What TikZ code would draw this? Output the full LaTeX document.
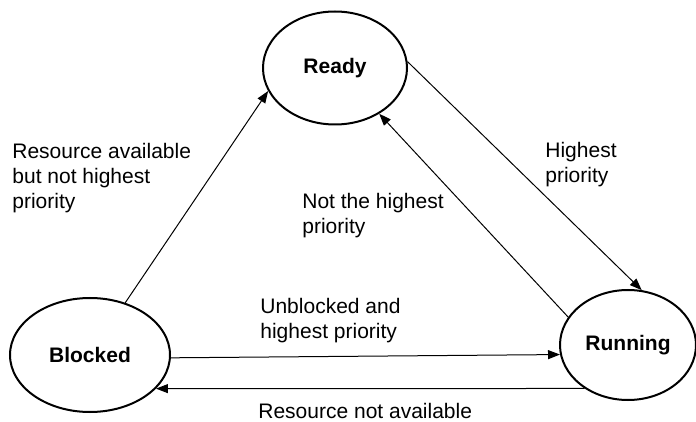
\documentclass[tikz,border=0pt]{standalone}
\usepackage{fontspec}
\setmainfont{Liberation Sans}
\usetikzlibrary{shapes.geometric,arrows.meta}

\begin{document}
\begin{tikzpicture}[
    x=0.5pt, y=-0.5pt,
    every node/.style={font=\fontsize{10.5}{12.5}\selectfont},
    state/.style={draw, ellipse, line width=1pt, inner sep=0pt, font=\fontsize{10.5}{12.5}\selectfont\bfseries},
    arr/.style={-{Triangle[length=6pt,width=4.5pt]}, line width=0.5pt},
    lbl/.style={anchor=north west, inner sep=0pt, align=left}
]
\useasboundingbox (0,0) rectangle (696,422);

\node[state, minimum width=72pt, minimum height=56.5pt] (ready)   at (335,68)  {Ready};
\node[state, minimum width=80pt, minimum height=57pt]   (blocked) at (90,355)  {Blocked};
\node[state, minimum width=68pt, minimum height=55pt]   (running) at (628,345) {Running};

\node[lbl] (avail)    at (12,143)  {Resource available\\but not highest\\priority};
\node[lbl] (highest)  at (545,142) {Highest\\priority};
\node[lbl] (nothigh)  at (302,193) {Not the highest\\priority};
\node[lbl] (unblock)  at (260,298) {Unblocked and\\highest priority};
\node[lbl] (notavail) at (258,403) {Resource not available};

\draw[arr] (blocked.56)  -- (ready.199);
\draw[arr] (ready.5)     -- (running.76);
\draw[arr] (running.155) -- (ready.314);
\draw[arr] (blocked.358) -- (running.188);
\draw[arr] (running.225) -- (blocked.333);
\end{tikzpicture}
\end{document}
